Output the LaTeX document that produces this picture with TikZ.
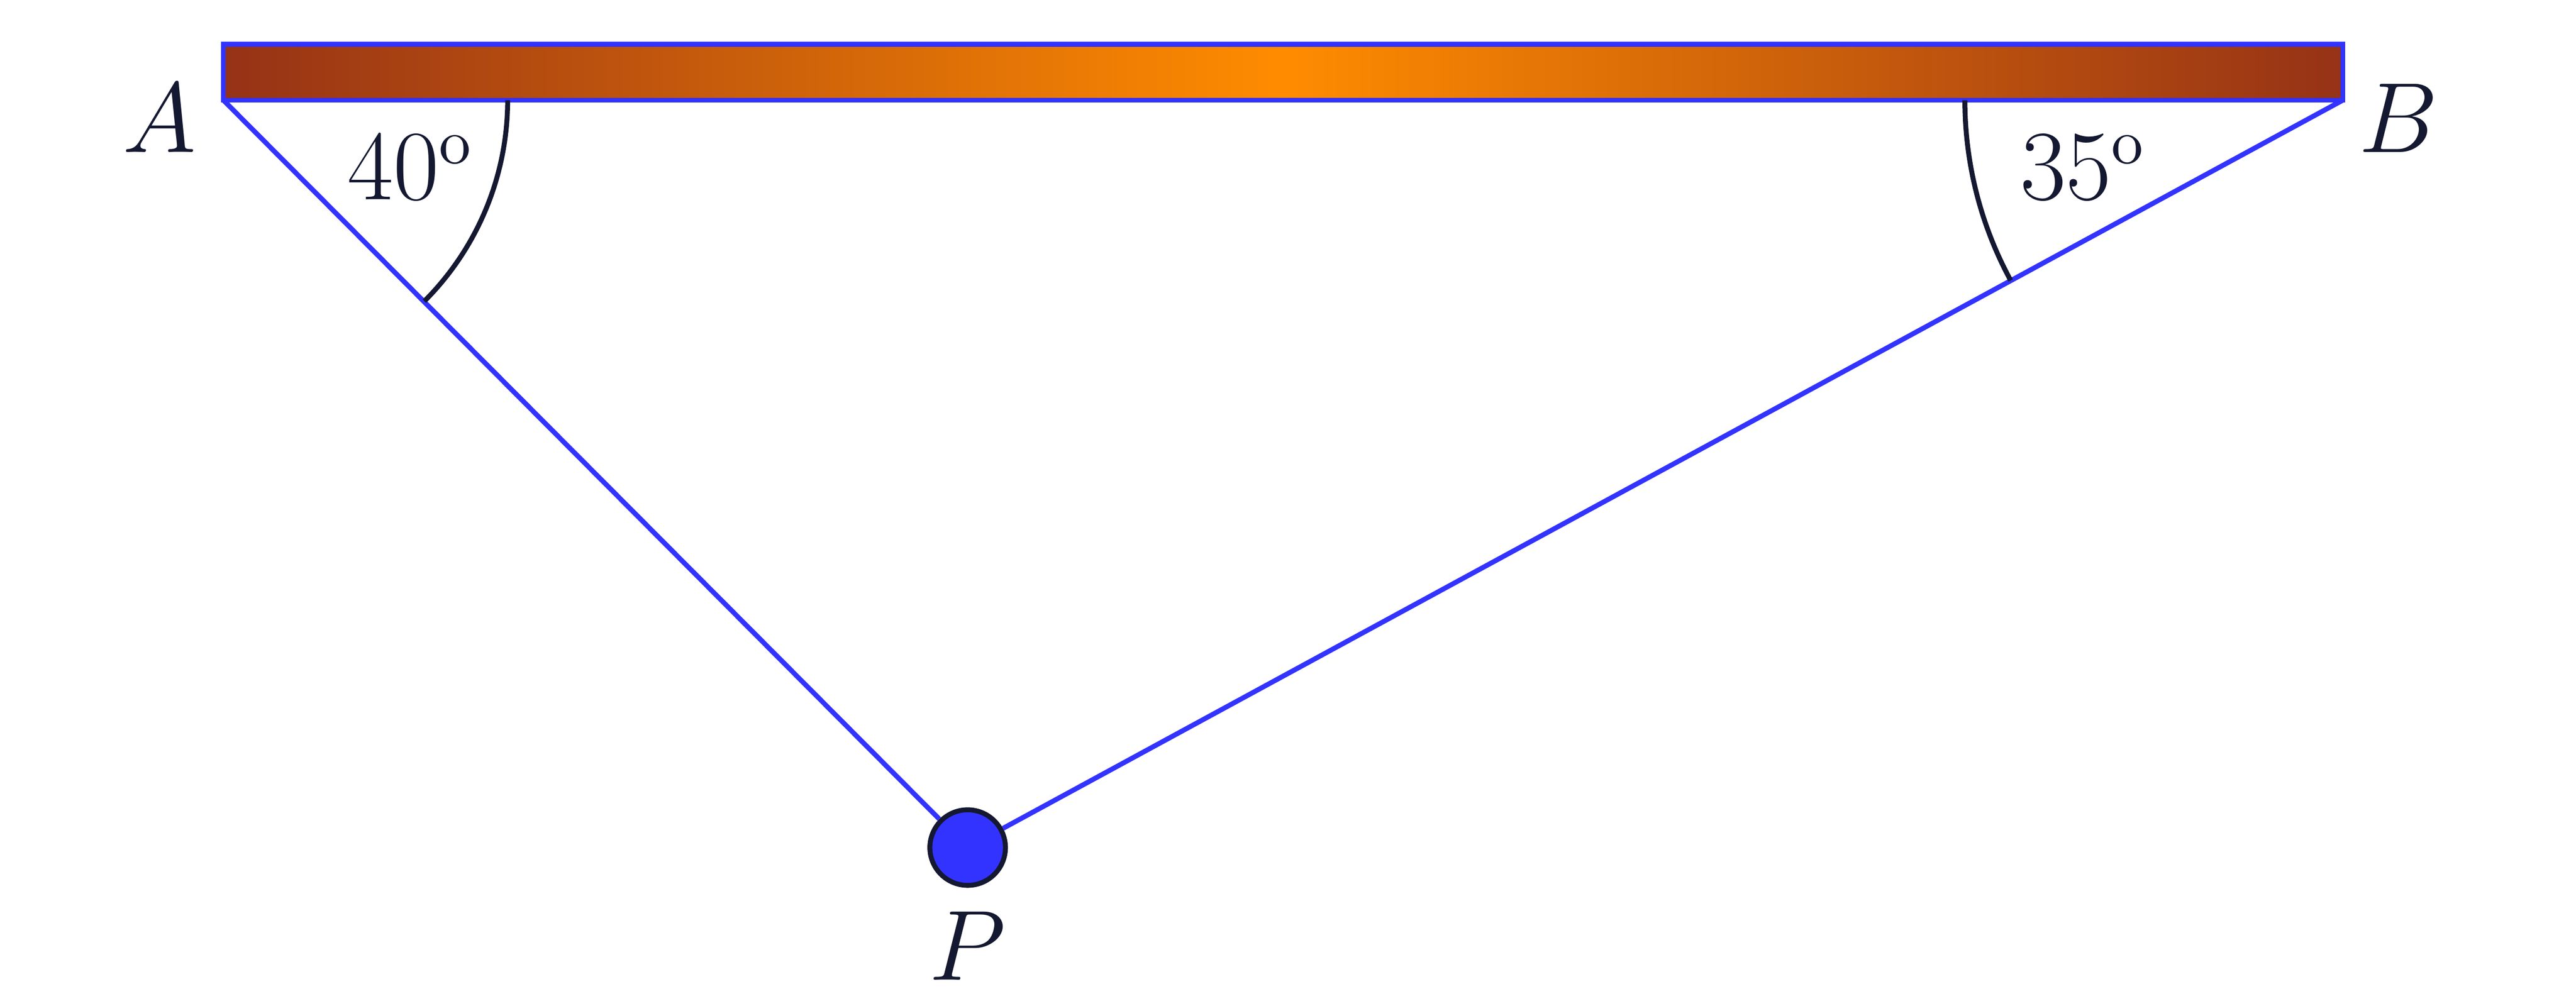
\documentclass[tikz,border=0pt]{standalone}
\usetikzlibrary{positioning}
\definecolor{barblue}{RGB}{51,51,255}
\definecolor{rust}{RGB}{150,50,22}
\definecolor{brightorange}{RGB}{255,140,0}
\definecolor{arcnavy}{RGB}{20,24,48}
\tikzset{
  rope/.style={line width=0.85pt, color=barblue},
  anglearc/.style={line width=0.85pt, color=arcnavy},
  ptlabel/.style={font=\fontsize{16}{19}\selectfont, text=arcnavy, inner sep=1pt},
}
\begin{document}
\begin{tikzpicture}
    \useasboundingbox (0,0) rectangle (15.68,6.02);
    % ceiling bar
    \shade[left color=rust, right color=rust, middle color=brightorange] (1.36,5.41) rectangle (14.26,5.75);
    \draw[rope] (1.36,5.41) rectangle (14.26,5.75);
    \coordinate (A) at (1.36,5.41);
    \coordinate (B) at (14.26,5.41);

    % strings
    \node[circle, draw=arcnavy, line width=0.85pt, fill=barblue, minimum size=0.46cm, inner sep=0pt] (P) at (5.89,0.86) {};
    \draw[rope] (A) -- (P);
    \draw[rope] (B) -- (P);

    % angles
    \draw[anglearc] ([xshift=1.73cm]A) arc[start angle=0, end angle=-45, radius=1.73];
    \draw[anglearc] ([xshift=-2.3cm]B) arc[start angle=180, end angle=208.5, radius=2.3];

    % labels
    \node[ptlabel] (labA) at (0.97,5.30) {$A$};
    \node[ptlabel] (labB) at (14.60,5.30) {$B$};
    \node[ptlabel] (labP) at (5.89,0.26) {$P$};
    \node[ptlabel] (angA) at (2.50,5.00) {$40^{\mathrm{o}}$};
    \node[ptlabel] (angB) at (12.68,5.00) {$35^{\mathrm{o}}$};
\end{tikzpicture}
\end{document}
